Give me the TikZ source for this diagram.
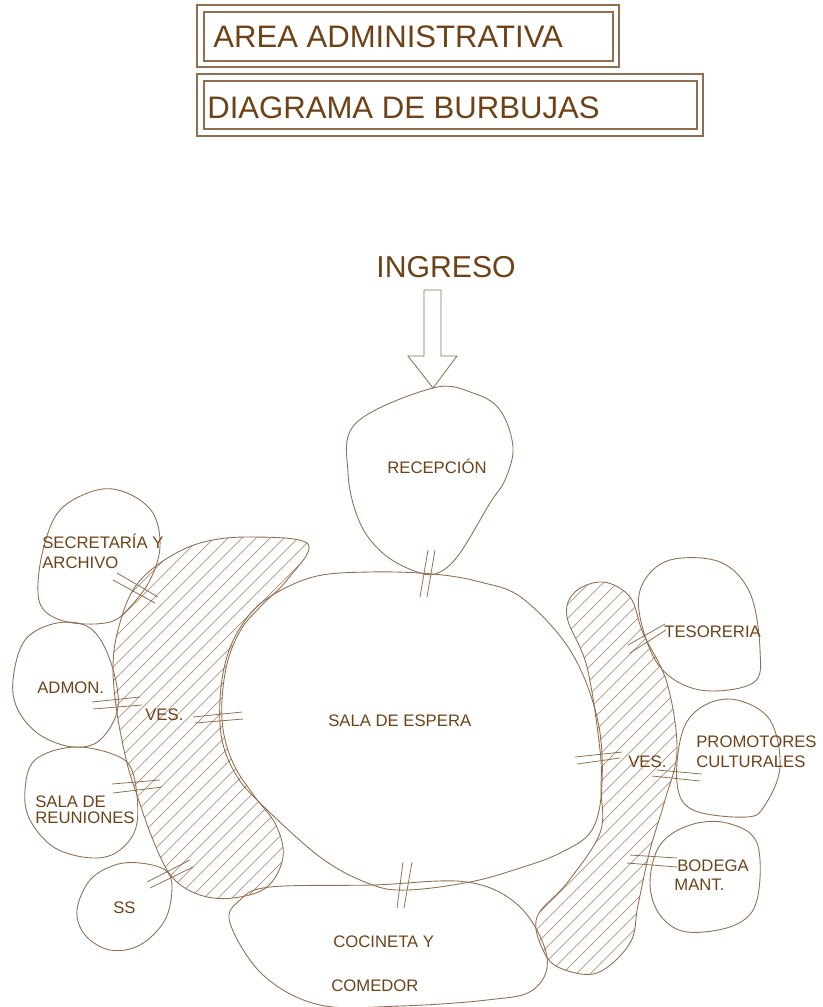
\documentclass[tikz,border=0pt]{standalone}
\usepackage{fontspec}
\setmainfont{Liberation Sans}
\usepackage{xcolor}
\usepackage{tikz}

\definecolor{tinta}{RGB}{110,66,22}
\definecolor{trazo}{RGB}{145,110,80}
\definecolor{rayado}{RGB}{175,145,118}

\tikzset{
  burbuja/.style={draw=trazo, line width=0.5pt},
  marco/.style={draw=trazo, line width=0.6pt},
  puerta/.style={draw=trazo, line width=0.45pt},
  raya/.style={draw=rayado, line width=0.4pt},
  titulo/.style={text=tinta, font=\fontsize{17.7}{20}\selectfont, inner sep=0pt, anchor=base west},
  rotulo/.style={text=tinta, font=\fontsize{9.5}{11}\selectfont, inner sep=0pt, anchor=base west}
}

\begin{document}
\begin{tikzpicture}[x=0.02cm, y=-0.02cm]
\useasboundingbox (0,0) rectangle (822,1007);

\def\vesizq{plot[smooth cycle, tension=0.6] coordinates {(308,544) (250,537) (200,543) (160,563) (133,590) (118,630) (113,667) (117,713) (127,763) (137,795) (153,840) (172,877) (200,895) (233,898) (267,887) (283,857) (276,825) (255,797) (235,767) (224,735) (222,700) (228,660) (242,628) (262,605) (287,580)}}
\def\vesder{plot[smooth cycle, tension=0.6] coordinates {(603,582) (630,597) (643,633) (667,683) (677,750) (665,800) (650,850) (638,905) (630,943) (597,973) (560,968) (543,950) (537,917) (567,883) (600,833) (601,790) (600,750) (587,667) (567,617) (575,592)}}

\draw[marco] (197,5) rectangle (619,67);
\draw[marco] (204,12) rectangle (613,61);
\draw[marco] (197,74) rectangle (703,136);
\draw[marco] (204,81) rectangle (697,129);
\node[titulo] (area) at (213,48) {AREA ADMINISTRATIVA};
\node[titulo] (diag) at (207,118) {DIAGRAMA DE BURBUJAS};

\node[titulo, font=\fontsize{17.2}{20}\selectfont] (ingreso) at (376,277) {INGRESO};
\coordinate (punta) at (433,388);
\draw[burbuja] (424,290) -- (441,290) -- (441,356) -- (457,356) -- (punta) -- (408,356) -- (424,356) -- cycle;

\foreach \zona in {\vesizq,\vesder}{
  \begin{scope}
    \clip \zona;
    \foreach \c in {640,654,...,1690}
      \draw[raya] (\c,0) -- (\c-1100,1100);
  \end{scope}
  \draw[burbuja] \zona;
}

\draw[burbuja] plot[smooth cycle, tension=0.6] coordinates {(punta) (473,393) (500,410) (513,447) (505,480) (490,503) (460,553) (440,572) (420,573) (385,555) (360,523) (348,473) (356,423)};
\draw[burbuja] plot[smooth cycle, tension=0.6] coordinates {(313,577) (370,572) (433,574) (480,582) (522,598) (570,650) (597,717) (602,783) (592,830) (560,853) (520,868) (470,882) (407,890) (370,884) (320,857) (257,800) (235,773) (222,740) (220,700) (226,660) (240,628) (265,600)};
\draw[burbuja] plot[smooth cycle, tension=0.6] coordinates {(97,490) (127,493) (153,513) (160,547) (150,580) (130,607) (110,622) (73,623) (47,613) (38,593) (43,550) (60,510)};
\draw[burbuja] plot[smooth cycle, tension=0.6] coordinates {(57,623) (90,628) (110,660) (118,707) (100,740) (73,747) (40,735) (18,710) (13,680) (25,640)};
\draw[burbuja] plot[smooth cycle, tension=0.6] coordinates {(73,747) (115,755) (133,773) (137,823) (120,850) (93,858) (55,848) (30,820) (25,790) (35,760)};
\draw[burbuja] plot[smooth cycle, tension=0.6] coordinates {(140,863) (165,870) (172,887) (165,920) (140,945) (110,950) (85,935) (77,910) (90,880) (115,865)};
\draw[burbuja] plot[smooth cycle, tension=0.6] coordinates {(270,887) (373,885) (467,882) (520,907) (547,957) (533,990) (487,1000) (400,1006) (320,1005) (263,975) (230,923) (240,900)};
\draw[burbuja] plot[smooth cycle, tension=0.6] coordinates {(670,560) (720,562) (750,593) (760,650) (753,683) (700,690) (660,667) (640,617) (643,583)};
\draw[burbuja] plot[smooth cycle, tension=0.6] coordinates {(737,700) (770,720) (780,767) (765,805) (747,817) (693,810) (677,783) (683,730) (705,705)};
\draw[burbuja] plot[smooth cycle, tension=0.6] coordinates {(727,823) (757,843) (757,900) (735,925) (687,932) (660,915) (650,883) (660,845) (690,825)};

\draw[puerta] (428,550) -- (420,597) (435,550) -- (427,597);
\draw[puerta] (403,862) -- (397,908) (412,862) -- (404,908);
\draw[puerta] (117,573) -- (158,597) (113,580) -- (155,603);
\draw[puerta] (92,702) -- (140,697) (93,709) -- (142,705);
\draw[puerta] (193,717) -- (242,712) (195,723) -- (243,719);
\draw[puerta] (112,784) -- (160,780) (113,793) -- (162,787);
\draw[puerta] (147,882) -- (190,860) (150,888) -- (193,867);
\draw[puerta] (628,645) -- (665,624) (630,653) -- (666,630);
\draw[puerta] (575,757) -- (622,752) (577,764) -- (620,758);
\draw[puerta] (657,770) -- (702,774) (652,776) -- (700,781);
\draw[puerta] (630,855) -- (677,858) (627,863) -- (677,867);

\node[rotulo] (recep) at (387,473) {RECEPCIÓN};
\node[rotulo] (espera) at (328,726) {SALA DE ESPERA};
\node[rotulo] (secre1) at (42,548) {SECRETARÍA Y};
\node[rotulo] (secre2) at (42,568) {ARCHIVO};
\node[rotulo] (admon) at (37,693) {ADMON.};
\node[rotulo] (vesi) at (145,720) {VES.};
\node[rotulo] (reun1) at (35,807) {SALA DE};
\node[rotulo] (reun2) at (35,823) {REUNIONES};
\node[rotulo] (ss) at (113,913) {SS};
\node[rotulo] (coci1) at (333,947) {COCINETA Y};
\node[rotulo] (coci2) at (331,991) {COMEDOR};
\node[rotulo] (teso) at (664,637) {TESORERIA};
\node[rotulo] (promo1) at (696,747) {PROMOTORES};
\node[rotulo] (promo2) at (696,767) {CULTURALES};
\node[rotulo] (vesd) at (628,767) {VES.};
\node[rotulo] (bode1) at (677,871) {BODEGA};
\node[rotulo] (bode2) at (674,890) {MANT.};
\end{tikzpicture}
\end{document}
